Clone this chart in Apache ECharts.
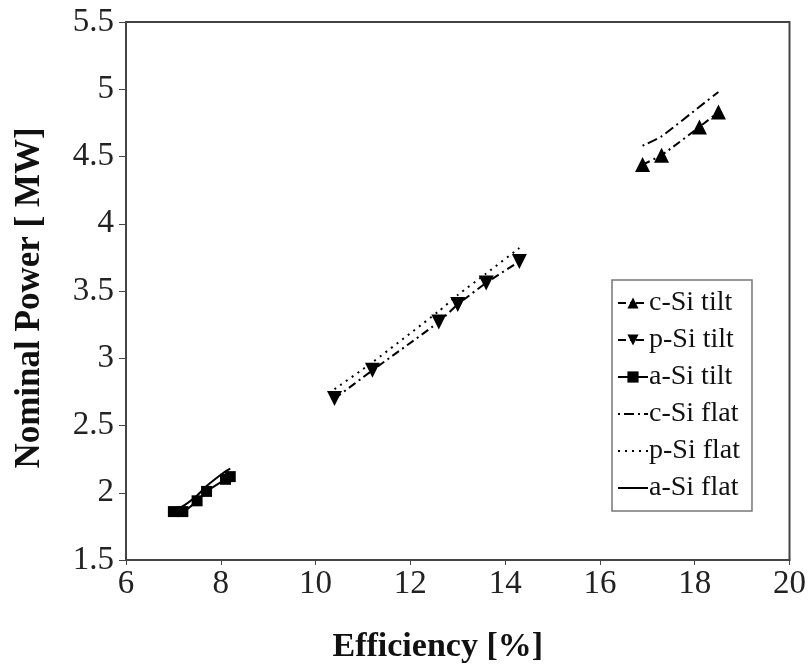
<!DOCTYPE html>
<html>
<head>
<meta charset="utf-8">
<script src="https://cdn.jsdelivr.net/npm/echarts@6/dist/echarts.min.js"></script>
<style>
  html, body { margin: 0; padding: 0; background: #fff; }
  #chart { width: 809px; height: 669px; }
</style>
</head>
<body>
<div id="chart"></div>
<script>
// efficiency [%] per technology
const cSiEff = [16.9, 17.3, 18.1, 18.5]
const pSiEff = [10.4, 11.2, 12.6, 13.0, 13.6, 14.3]
const aSiEff = [7.0, 7.2, 7.5, 7.7, 8.1, 8.2]

// nominal power [MW]
const cSiTilt = [4.44, 4.51, 4.72, 4.83]
const pSiTilt = [2.70, 2.91, 3.27, 3.40, 3.56, 3.72]
const aSiTilt = [1.86, 1.86, 1.94, 2.01, 2.10, 2.12]
const cSiFlat = [4.58, 4.65, 4.87, 4.98]
const pSiFlat = [2.77, 2.97, 3.35, 3.47, 3.63, 3.82]
const aSiFlat = [1.87, 1.90, 1.98, 2.05, 2.16, 2.18]

const seriesNames = ['c-Si tilt', 'p-Si tilt', 'a-Si tilt', 'c-Si flat', 'p-Si flat', 'a-Si flat']

const serif = '"Liberation Serif", "DejaVu Serif", serif'
const zip = (xs, ys) => xs.map((x, i) => [x, ys[i]])

var myChart = echarts.init(document.getElementById('chart'))

function lineSeries(name, data, dash, symbol, rotate) {
  return {
    name: name,
    type: 'line',
    data: data,
    smooth: 0.2,
    symbol: symbol || 'none',
    symbolSize: symbol === 'rect' ? 11 : 15,
    symbolRotate: rotate || 0,
    showSymbol: !!symbol,
    itemStyle: { color: '#000' },
    lineStyle: { color: '#000', width: 2, type: dash },
    z: symbol ? 3 : 2
  }
}

// legend entries: the flat series show only their line
const legendData = seriesNames.map((n, i) => i < 3 ? { name: n } : { name: n, itemStyle: { opacity: 0 } })

const option = {
  backgroundColor: '#fff',
  animation: false,
  grid: { left: 126, top: 22, right: 17, bottom: 107, containLabel: false, show: true, borderColor: '#444', borderWidth: 2 },
  xAxis: {
    type: 'value',
    min: 6, max: 20, interval: 2,
    name: 'Efficiency [%]',
    nameLocation: 'middle',
    nameGap: 70,
    nameTextStyle: { fontFamily: serif, fontSize: 34, fontWeight: 'bold', color: '#111', padding: [0, 40, 0, 0] },
    axisLine: { show: true, lineStyle: { color: '#444', width: 2 } },
    axisTick: { show: true, inside: false, length: 5, lineStyle: { color: '#444' } },
    axisLabel: { fontFamily: serif, fontSize: 33, color: '#222', margin: 8 },
    splitLine: { show: false }
  },
  yAxis: {
    type: 'value',
    min: 1.5, max: 5.5, interval: 0.5,
    name: 'Nominal Power [ MW]',
    nameLocation: 'middle',
    nameGap: 79,
    nameTextStyle: { fontFamily: serif, fontSize: 35, fontWeight: 'bold', color: '#111', padding: [0, 14, 0, 0] },
    axisLine: { show: true, lineStyle: { color: '#444', width: 2 } },
    axisTick: { show: true, inside: false, length: 7, lineStyle: { color: '#444' } },
    axisLabel: { fontFamily: serif, fontSize: 33, color: '#222', margin: 12 },
    splitLine: { show: false }
  },
  legend: {
    orient: 'vertical',
    left: 612,
    top: 280,
    padding: [9, 12, 9, 5],
    itemGap: 9,
    itemWidth: 30,
    itemHeight: 14,
    borderColor: '#777',
    borderWidth: 1.5,
    backgroundColor: '#fff',
    textStyle: { fontFamily: serif, fontSize: 28, lineHeight: 27, color: '#111', padding: [0, 0, 0, -4] },
    data: legendData
  },
  series: [
    lineSeries(seriesNames[0], zip(cSiEff, cSiTilt), [8, 4, 2, 4], 'triangle', 0),
    lineSeries(seriesNames[1], zip(pSiEff, pSiTilt), [8, 4, 2, 4], 'triangle', 180),
    lineSeries(seriesNames[2], zip(aSiEff, aSiTilt), 'solid', 'rect', 0),
    lineSeries(seriesNames[3], zip(cSiEff, cSiFlat), [2, 4, 10, 4], null),
    lineSeries(seriesNames[4], zip(pSiEff, pSiFlat), [2, 5], null),
    lineSeries(seriesNames[5], zip(aSiEff, aSiFlat), 'solid', null)
  ]
}

myChart.setOption(option)
</script>
</body>
</html>
